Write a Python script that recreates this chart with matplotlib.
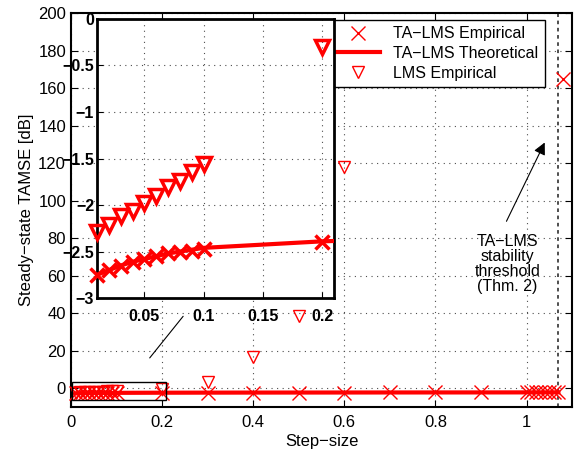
import matplotlib
matplotlib.use("Agg")
import matplotlib.pyplot as plt
from matplotlib.patches import Rectangle

plt.rcParams["font.family"] = ["Liberation Sans", "DejaVu Sans"]

# step sizes and steady-state TAMSE values [dB]
ta_mu = [0.01, 0.02, 0.03, 0.04, 0.05, 0.06, 0.07, 0.08, 0.09, 0.10,
         0.2, 0.3, 0.4, 0.5, 0.6, 0.7, 0.8, 0.9, 1.0,
         1.01, 1.02, 1.03, 1.04, 1.05, 1.06, 1.07, 1.08]
ta_emp = [-2.75, -2.70, -2.65, -2.61, -2.58, -2.55, -2.52, -2.50, -2.49, -2.47,
          -2.40, -2.35, -2.32, -2.30, -2.28, -2.26, -2.25, -2.24, -2.22,
          -2.2, -2.2, -2.2, -2.2, -2.2, -2.1, -2.0, 165.0]

th_mu = [0.01, 0.02, 0.03, 0.04, 0.05, 0.06, 0.07, 0.08, 0.09, 0.10,
         0.2, 0.3, 0.4, 0.5, 0.6, 0.7, 0.8, 0.9, 1.0, 1.07]
th_val = [-2.75, -2.70, -2.65, -2.61, -2.58, -2.55, -2.52, -2.50, -2.48, -2.46,
          -2.39, -2.35, -2.32, -2.30, -2.28, -2.26, -2.25, -2.24, -2.22, -2.2]

lms_mu = [0.01, 0.02, 0.03, 0.04, 0.05, 0.06, 0.07, 0.08, 0.09, 0.10,
          0.2, 0.3, 0.4, 0.5, 0.6]
lms_emp = [-2.29, -2.21, -2.12, -2.06, -1.98, -1.90, -1.81, -1.74, -1.65, -1.56,
           -0.30, 3.2, 16.5, 38.5, 118.0]

threshold = 1.07
zoom_max = 0.2
red = "#ff0000"
minus = "\u2212"

fig = plt.figure(figsize=(5.79, 4.51), dpi=100)
ax = fig.add_axes([0.1226, 0.0976, 0.8654, 0.8734])

ax.plot(th_mu, th_val, color=red, lw=3, zorder=3, label="TA" + minus + "LMS Theoretical")
ax.plot(ta_mu, ta_emp, ls="none", marker="x", ms=10, mew=1, color=red, zorder=4,
        clip_on=False, label="TA" + minus + "LMS Empirical")
ax.plot(lms_mu, lms_emp, ls="none", marker="v", ms=9, mfc="none", mew=1, color=red,
        zorder=4, label="LMS Empirical")
ax.axvline(threshold, color="0.25", ls=(0, (2, 2)), lw=1.3, zorder=2)

ax.set_xlim(0, 1.1)
ax.set_ylim(-10, 200)
ax.set_xticks([0, 0.2, 0.4, 0.6, 0.8, 1])
ax.set_xticklabels(["0", "0.2", "0.4", "0.6", "0.8", "1"])
ax.set_yticks(range(0, 201, 20))
ax.tick_params(direction="in", top=True, right=True, labelsize=12, length=5)
ax.tick_params(axis="x", pad=6)
ax.grid(True, ls=(0, (1, 4)), color="0.3", lw=0.8)
for s in ax.spines.values():
    s.set_linewidth(1.5)
ax.set_xlabel("Step" + minus + "size", fontsize=12, labelpad=3)
ax.set_ylabel("Steady" + minus + "state TAMSE [dB]", fontsize=12, labelpad=3)

h, l = ax.get_legend_handles_labels()
order = [1, 0, 2]
leg = ax.legend([h[i] for i in order], [l[i] for i in order], loc="upper right",
                bbox_to_anchor=(0.955, 0.995), fontsize=11.5, fancybox=False,
                edgecolor="black", framealpha=1, borderaxespad=0.3,
                handlelength=2.8, labelspacing=0.3)
leg.get_frame().set_linewidth(1.0)

# zoom box and connector
ax.add_patch(Rectangle((0.003, -6.4), 0.205, 9.6, fill=False, ec="black", lw=1, zorder=5))
ax.annotate("", xy=(0.25, 39.5), xytext=(0.169, 15),
            arrowprops=dict(arrowstyle="-", color="black", lw=0.8))

ax.text(0.958, 66, "TA" + minus + "LMS\nstability\nthreshold\n(Thm. 2)",
        ha="center", va="center", fontsize=11.5, linespacing=1.0)
ax.annotate("", xy=(1.04, 131), xytext=(0.956, 89),
            arrowprops=dict(arrowstyle="-|>", color="black", lw=0.8,
                            mutation_scale=18, shrinkA=0, shrinkB=0))

# inset (only the points inside the zoomed range)
ins = fig.add_axes([0.1675, 0.339, 0.4095, 0.619])
ta_in = [(m, v) for m, v in zip(ta_mu, ta_emp) if m <= zoom_max]
lms_in = [(m, v) for m, v in zip(lms_mu, lms_emp) if m <= zoom_max]
ins.plot(th_mu, th_val, color=red, lw=3, zorder=3)
ins.plot([p[0] for p in ta_in], [p[1] for p in ta_in], ls="none", marker="x", ms=10,
         mew=2.5, color=red, zorder=4, clip_on=False)
ins.plot([p[0] for p in lms_in], [p[1] for p in lms_in], ls="none", marker="v", ms=10,
         mfc="none", mew=2.5, color=red, zorder=4, clip_on=False)
ins.set_xlim(0.01, 0.21)
ins.set_ylim(-3, 0)
ins.set_xticks([0.05, 0.1, 0.15, 0.2])
ins.set_xticklabels(["0.05", "0.1", "0.15", "0.2"])
ins.set_yticks([-3, -2.5, -2, -1.5, -1, -0.5, 0])
ins.set_yticklabels([minus + "3", minus + "2.5", minus + "2", minus + "1.5",
                     minus + "1", minus + "0.5", "0"])
ins.tick_params(direction="in", labelsize=11.5, length=4, pad=2)
ins.tick_params(axis="x", pad=8)
for t in ins.get_xticklabels() + ins.get_yticklabels():
    t.set_fontweight("bold")
ins.grid(True, ls=(0, (1, 4)), color="0.3", lw=0.8)
for s in ins.spines.values():
    s.set_linewidth(2)

fig.savefig("out.png", dpi=100)
